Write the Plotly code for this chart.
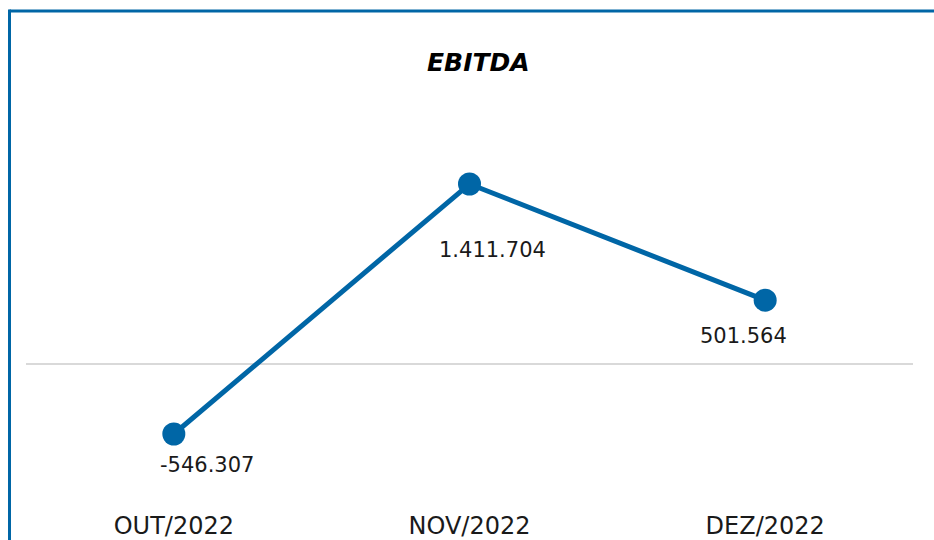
import plotly.graph_objects as go

categories = ["OUT/2022", "NOV/2022", "DEZ/2022"]
ebitda = [-546307, 1411704, 501564]
labels = ["-546.307", "1.411.704", "501.564"]

# label offsets (pixels) relative to each point
label_dx = [33, 23, -22]
label_dy = [-31, -66, -36]

BLUE = "#0066a6"
FONT = "DejaVu Sans"

W, H = 934, 540
L, R, T, B = 26, 21, 100, 40
PW, PH = W - L - R, H - T - B


def px(xp):
    return (xp - L) / PW


def py(yp):
    return (H - B - yp) / PH


fig = go.Figure()
fig.add_trace(go.Scatter(
    x=categories, y=ebitda, mode="lines+markers",
    line=dict(color=BLUE, width=5),
    marker=dict(color=BLUE, size=23),
    hoverinfo="skip", showlegend=False,
))

for c, v, t, dx, dy in zip(categories, ebitda, labels, label_dx, label_dy):
    fig.add_annotation(x=c, y=v, text=t, showarrow=False,
                       xshift=dx, yshift=dy, xanchor="center", yanchor="middle",
                       font=dict(family=FONT, size=21, color="#1a1a1a"))

fig.add_annotation(xref="paper", yref="paper", x=px(478), y=py(63),
                   xanchor="center", yanchor="middle",
                   text="<b><i>EBITDA</i></b>", showarrow=False,
                   font=dict(family=FONT, size=25, color="#000000"))

# frame (top and left edges)
fig.add_shape(type="line", xref="paper", yref="paper",
              x0=px(9.5), x1=px(940), y0=py(11), y1=py(11),
              line=dict(color=BLUE, width=3))
fig.add_shape(type="line", xref="paper", yref="paper",
              x0=px(9.5), x1=px(9.5), y0=py(9.5), y1=py(545),
              line=dict(color=BLUE, width=3))

fig.update_layout(
    width=W, height=H,
    margin=dict(l=L, r=R, t=T, b=B),
    paper_bgcolor="white", plot_bgcolor="white",
    font=dict(family=FONT, size=21, color="#1a1a1a"),
    xaxis=dict(range=[-0.5, 2.5], showgrid=False, zeroline=False,
               showline=False, ticks="", tickfont=dict(size=24),
               ticklabelstandoff=9, automargin=False,
               fixedrange=True),
    yaxis=dict(range=[-1063224, 2069599], showgrid=False, zeroline=True,
               zerolinecolor="#d9d9d9", zerolinewidth=1.5,
               showticklabels=False, showline=False, ticks="",
               automargin=False, fixedrange=True),
)

fig.write_html("out.html", config={"displayModeBar": False},
               post_script="document.body.style.margin='0';")
